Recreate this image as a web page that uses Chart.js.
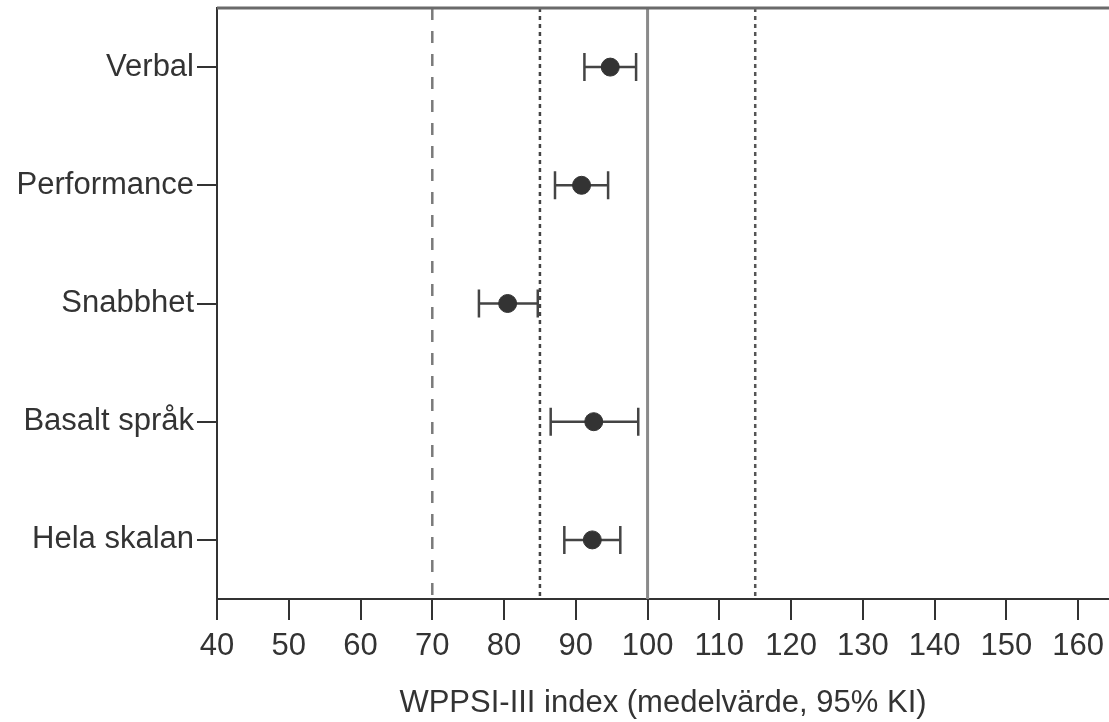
<!DOCTYPE html>
<html>
<head>
<meta charset="utf-8">
<script src="https://cdn.jsdelivr.net/npm/chart.js@4.4.1/dist/chart.umd.min.js"></script>
<style>
  html, body { margin: 0; padding: 0; background: #fff; overflow: hidden; }
  #wrap { width: 1109px; height: 722px; position: relative; }
  #wrap canvas { display: block; }
</style>
</head>
<body>
<div id="wrap"><canvas id="ciChart"></canvas></div>
<script>
// categories and values
const categories = ["Verbal", "Performance", "Snabbhet", "Basalt språk", "Hela skalan"];
const means = [94.8, 90.8, 80.5, 92.5, 92.3];
const ciLow = [91.2, 87.1, 76.5, 86.5, 88.4];
const ciHigh = [98.4, 94.5, 84.7, 98.7, 96.2];
const xTicks = [40, 50, 60, 70, 80, 90, 100, 110, 120, 130, 140, 150, 160];
const refLines = [70, 85, 100, 115];

const FONT = "'Liberation Sans', Arial, sans-serif";

// reference lines, top frame line and error bars
const refPlugin = {
    id: "refLines",
    beforeDatasetsDraw(chart) {
        const { ctx, chartArea, scales } = chart;
        const styles = {
            70: { color: "#7a7a7a", width: 2.5, dash: [12, 11] },
            85: { color: "#444", width: 2.5, dash: [4, 4] },
            100: { color: "#8a8a8a", width: 3, dash: [] },
            115: { color: "#555", width: 2.5, dash: [4, 4] }
        };
        ctx.save();
        refLines.forEach(v => {
            const s = styles[v];
            const x = scales.x.getPixelForValue(v);
            ctx.beginPath();
            ctx.strokeStyle = s.color;
            ctx.lineWidth = s.width;
            ctx.setLineDash(s.dash);
            ctx.moveTo(x, chartArea.top);
            ctx.lineTo(x, chartArea.bottom);
            ctx.stroke();
        });
        ctx.setLineDash([]);
        ctx.beginPath();
        ctx.strokeStyle = "#6a6a6a";
        ctx.lineWidth = 3;
        ctx.moveTo(chartArea.left, chartArea.top);
        ctx.lineTo(chartArea.right, chartArea.top);
        ctx.stroke();

        // error bars (95% KI)
        ctx.strokeStyle = "#444";
        ctx.lineWidth = 2.5;
        categories.forEach((c, i) => {
            const y = scales.y.getPixelForValue(i);
            const x1 = scales.x.getPixelForValue(ciLow[i]);
            const x2 = scales.x.getPixelForValue(ciHigh[i]);
            ctx.beginPath();
            ctx.moveTo(x1, y);
            ctx.lineTo(x2, y);
            ctx.moveTo(x1, y - 14);
            ctx.lineTo(x1, y + 14);
            ctx.moveTo(x2, y - 14);
            ctx.lineTo(x2, y + 14);
            ctx.stroke();
        });
        ctx.restore();
    }
};

const ctx = document.getElementById("ciChart").getContext("2d");
new Chart(ctx, {
    type: "scatter",
    data: {
        datasets: [{
            data: categories.map((c, i) => ({ x: means[i], y: c })),
            backgroundColor: "#333",
            borderColor: "#333",
            pointRadius: 9,
            pointHoverRadius: 9
        }]
    },
    options: {
        responsive: true,
        maintainAspectRatio: false,
        animation: false,
        layout: { autoPadding: false, padding: { top: 8, right: 0, left: 0, bottom: 0 } },
        plugins: {
            legend: { display: false },
            tooltip: { enabled: false }
        },
        scales: {
            x: {
                type: "linear",
                min: 40,
                max: 164.3,
                afterBuildTicks: scale => {
                    scale.ticks = xTicks.map(v => ({ value: v }));
                },
                afterFit: scale => {
                    scale.height = 123;
                    scale.paddingLeft = 0;
                    scale.paddingRight = 0;
                },
                grid: {
                    drawOnChartArea: false,
                    drawTicks: true,
                    tickLength: 21,
                    color: "#333",
                    lineWidth: 2
                },
                border: { display: true, color: "#333", width: 2 },
                ticks: {
                    color: "#333",
                    padding: 8,
                    maxRotation: 0,
                    font: { family: FONT, size: 31 }
                },
                title: {
                    display: true,
                    text: "WPPSI-III index (medelvärde, 95% KI)",
                    color: "#333",
                    font: { family: FONT, size: 31 },
                    padding: { top: 16, bottom: 0 }
                }
            },
            y: {
                type: "category",
                labels: categories,
                offset: true,
                afterFit: scale => {
                    scale.width = 217;
                    scale.paddingTop = 0;
                    scale.paddingBottom = 0;
                },
                grid: {
                    drawOnChartArea: false,
                    drawTicks: true,
                    tickLength: 20,
                    color: "#333",
                    lineWidth: 2
                },
                border: { display: true, color: "#333", width: 2 },
                ticks: {
                    color: "#333",
                    padding: 3,
                    font: { family: FONT, size: 31 }
                }
            }
        }
    },
    plugins: [refPlugin]
});
</script>
</body>
</html>
